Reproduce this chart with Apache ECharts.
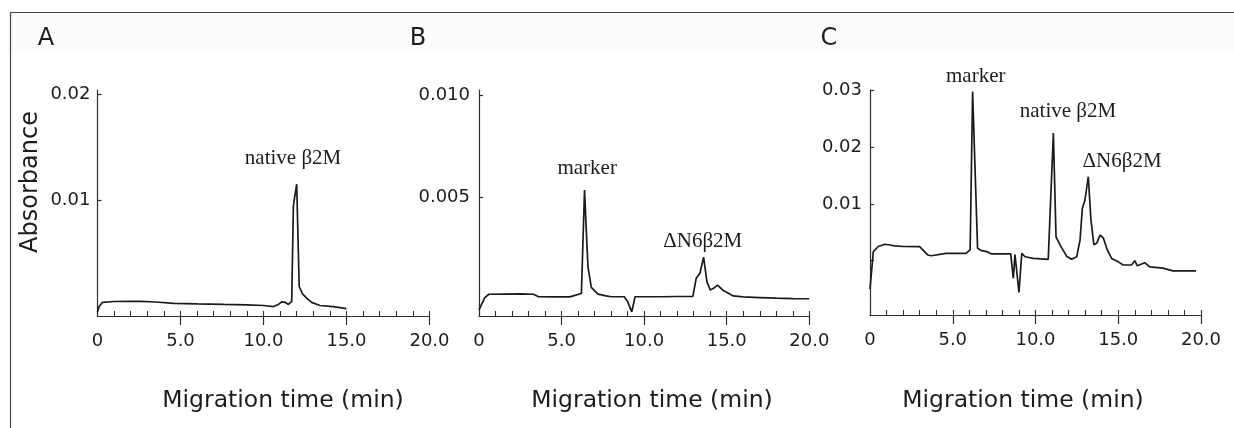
<!DOCTYPE html>
<html><head><meta charset="utf-8">
<script src="https://cdn.jsdelivr.net/npm/echarts@6/dist/echarts.min.js"></script>
<style>html,body{margin:0;padding:0;background:#fff}#c{width:1234px;height:428px}</style>
</head><body><div id="c"></div>
<script>
// ---- data (migration time in min, absorbance) ----
const timeA = [0, 0.1, 0.3, 1.0, 2.0, 2.6, 3.5, 4.6, 6.0, 7.6, 9.0, 10.0, 10.6, 10.9, 11.1, 11.3, 11.5, 11.7, 11.8, 11.85, 12.0, 12.15, 12.35, 12.6, 12.9, 13.4, 14.2, 15.0];
const absA  = [-0.0006, -0.0001, 0.0003, 0.00038, 0.0004, 0.0004, 0.00033, 0.0002, 0.00015, 0.0001, 0.00006, 0.0, -0.0001, 0.0001, 0.00035, 0.0003, 0.0001, 0.0004, 0.0094, 0.0100, 0.0115, 0.0018, 0.0011, 0.0007, 0.0003, 0.0, -0.0001, -0.0003];

const timeB = [0, 0.35, 0.6, 1.5, 2.5, 3.3, 3.6, 4.5, 5.5, 6.2, 6.39, 6.5, 6.6, 6.8, 7.2, 7.7, 8.0, 8.8, 8.9, 8.95, 9.0, 9.25, 9.45, 10.0, 11.0, 12.0, 12.95, 13.15, 13.38, 13.6, 13.8, 14.0, 14.2, 14.44, 14.8, 15.4, 16.0, 17.0, 18.0, 19.0, 20.0];
const absB  = [-0.0005, 0.0001, 0.00026, 0.00027, 0.00028, 0.00026, 0.00014, 0.00013, 0.00013, 0.0003, 0.00536, 0.0033, 0.0016, 0.0006, 0.00027, 0.00018, 0.00014, 0.00014, 0.00002, 0.00008, -0.0001, -0.0006, 0.00014, 0.00014, 0.00014, 0.00015, 0.00016, 0.00104, 0.00129, 0.00207, 0.00088, 0.00047, 0.00055, 0.00071, 0.00044, 0.00018, 0.00013, 0.0001, 0.00007, 0.00005, 0.00004];

const timeC = [0, 0.2, 0.5, 0.9, 1.2, 1.5, 2.0, 3.0, 3.1, 3.5, 3.7, 4.6, 5.8, 6.05, 6.2, 6.5, 6.75, 7.05, 7.35, 7.85, 8.5, 8.66, 8.76, 9.0, 9.17, 9.37, 9.87, 10.77, 11.08, 11.24, 11.48, 11.88, 12.18, 12.49, 12.69, 12.83, 12.99, 13.19, 13.35, 13.53, 13.7, 13.9, 14.1, 14.34, 14.6, 15.0, 15.3, 15.8, 16.0, 16.15, 16.6, 16.9, 17.7, 18.3, 19.7];
const absC  = [-0.005, 0.0016, 0.0025, 0.0029, 0.00277, 0.0026, 0.0025, 0.00247, 0.0022, 0.001, 0.00088, 0.0013, 0.0013, 0.0019, 0.0298, 0.0022, 0.00177, 0.0016, 0.0012, 0.0012, 0.0012, -0.0031, 0.0011, -0.0056, 0.0013, 0.0007, 0.0004, 0.00025, 0.0225, 0.0042, 0.0028, 0.0008, 0.00025, 0.0007, 0.0036, 0.0092, 0.0107, 0.0148, 0.0072, 0.0028, 0.0031, 0.0045, 0.004, 0.0019, 0.0004, -0.0002, -0.00076, -0.00076, 0, -0.0009, -0.00035, -0.0011, -0.0013, -0.0018, -0.0018];

// ---- tick labels ----
const xTickValues = [0, 5, 10, 15, 20];
const xTickLabels = ['0', '5.0', '10.0', '15.0', '20.0'];
const yTickValuesA = [0.01, 0.02];
const yTickLabelsA = ['0.01', '0.02'];
const yTickValuesB = [0.005, 0.010];
const yTickLabelsB = ['0.005', '0.010'];
const yTickMarksC = [0, 0.01, 0.02, 0.03];
const yTickValuesC = [0.01, 0.02, 0.03];
const yTickLabelsC = ['0.01', '0.02', '0.03'];

// ---- texts ----
const panelLetters = ['A', 'B', 'C'];
const xTitle = 'Migration time (min)';
const yTitle = 'Absorbance';
// peak annotations: [text, time, absorbance anchor]
const annotA = [['native β2M', 11.78, 0.01392]];
const annotB = [['marker', 6.55, 0.00643], ['ΔN6β2M', 13.55, 0.00286]];
const annotC = [['marker', 6.39, 0.03256], ['native β2M', 11.96, 0.02627], ['ΔN6β2M', 15.23, 0.01757]];

// ---- layout ----
const panels = [
  {left: 97.5, top: 90, width: 332, height: 226, ymin: -0.000995, ymax: 0.020427, t: timeA, a: absA, yv: yTickValuesA, yl: yTickLabelsA, ym: yTickValuesA, lm: 7, ann: annotA, letterX: 46, titleX: 283},
  {left: 479, top: 90, width: 330.3, height: 226, ymin: -0.000802, ymax: 0.010244, t: timeB, a: absB, yv: yTickValuesB, yl: yTickLabelsB, ym: yTickValuesB, lm: 9, ann: annotB, letterX: 418, titleX: 652},
  {left: 870, top: 90, width: 331, height: 225, ymin: -0.00957, ymax: 0.03009, t: timeC, a: absC, yv: yTickValuesC, yl: yTickLabelsC, ym: yTickMarksC, lm: 8, ann: annotC, letterX: 829, titleX: 1023}
];

const INK = '#1c1c1c';
const AX = '#2e2e2e';
const sans = 'DejaVu Sans';

const chart = echarts.init(document.getElementById('c'), null, {renderer: 'canvas'});
const grids = [], xAxes = [], yAxes = [], series = [];
panels.forEach((p, i) => {
  grids.push({left: p.left, top: p.top, width: p.width, height: p.height, containLabel: false, outerBoundsMode: 'none'});
  // main x axis: labels + major ticks pointing down
  xAxes.push({
    type: 'value', gridIndex: i, min: 0, max: 20, interval: 5, position: 'bottom',
    axisLine: {show: true, onZero: false, lineStyle: {color: AX, width: 1.2}},
    axisTick: {show: true, inside: false, length: 9, lineStyle: {color: AX, width: 1.2}, customValues: [5, 10, 15, 20]},
    axisLabel: {show: true, margin: 16, color: INK, fontFamily: sans, fontSize: 18, customValues: xTickValues,
      formatter: v => xTickLabels[xTickValues.indexOf(v)] ?? ''},
    splitLine: {show: false}
  });
  // minor x axis: 1-min ticks pointing up
  xAxes.push({
    type: 'value', gridIndex: i, min: 0, max: 20, interval: 1, position: 'bottom',
    axisLine: {show: false, onZero: false},
    axisTick: {show: true, inside: true, length: 5, lineStyle: {color: AX, width: 1.1}},
    axisLabel: {show: false}, splitLine: {show: false}
  });
  yAxes.push({
    type: 'value', gridIndex: i, min: p.ymin, max: p.ymax,
    axisLine: {show: true, onZero: false, lineStyle: {color: AX, width: 1.2}},
    axisTick: {show: true, inside: true, length: 4, lineStyle: {color: AX, width: 1.2}, customValues: p.ym},
    axisLabel: {show: true, margin: p.lm, color: INK, fontFamily: sans, fontSize: 18, customValues: p.yv,
      formatter: v => { const k = p.yv.findIndex(q => Math.abs(q - v) < 1e-9); return k >= 0 ? p.yl[k] : ''; }},
    splitLine: {show: false}
  });
  series.push({
    type: 'line', xAxisIndex: i * 2, yAxisIndex: i, showSymbol: false, symbol: 'none', smooth: false,
    lineStyle: {color: '#1a1a1a', width: 1.7}, animation: false, silent: true,
    data: p.t.map((t, k) => [t, p.a[k]])
  });
});

chart.setOption({
  backgroundColor: '#fff', animation: false,
  grid: grids, xAxis: xAxes, yAxis: yAxes, series: series
});

const graphic = [];
graphic.push({type: 'rect', shape: {x: 10.5, y: 12.5, width: 1224, height: 40}, style: {fill: '#fcfcfc'}, silent: true, z: -10});
graphic.push({type: 'polyline', shape: {points: [[10.5, 428], [10.5, 12.5], [1234, 12.5]]}, style: {stroke: '#444', lineWidth: 1.2, fill: null}, silent: true});
panels.forEach((p, i) => {
  graphic.push({type: 'text', x: p.letterX, y: 39, style: {text: panelLetters[i], fill: INK, font: '24px "DejaVu Sans"', textAlign: 'center', textVerticalAlign: 'middle', align: 'center', verticalAlign: 'middle'}});
  graphic.push({type: 'text', x: p.titleX, y: 401, style: {text: xTitle, fill: INK, font: '23.5px "DejaVu Sans"', textAlign: 'center', textVerticalAlign: 'middle', align: 'center', verticalAlign: 'middle'}});
  p.ann.forEach(an => {
    const px = chart.convertToPixel({xAxisIndex: i * 2, yAxisIndex: i}, [an[1], an[2]]);
    graphic.push({type: 'text', x: px[0], y: px[1], style: {text: an[0], fill: INK, font: '21px "Liberation Serif"', textAlign: 'center', textVerticalAlign: 'middle', align: 'center', verticalAlign: 'middle'}});
  });
});
graphic.push({type: 'text', x: 31, y: 182, rotation: Math.PI / 2, style: {text: yTitle, fill: INK, font: '24px "DejaVu Sans"', textAlign: 'center', textVerticalAlign: 'middle', align: 'center', verticalAlign: 'middle'}});
chart.setOption({graphic: graphic});
</script>
</body></html>
